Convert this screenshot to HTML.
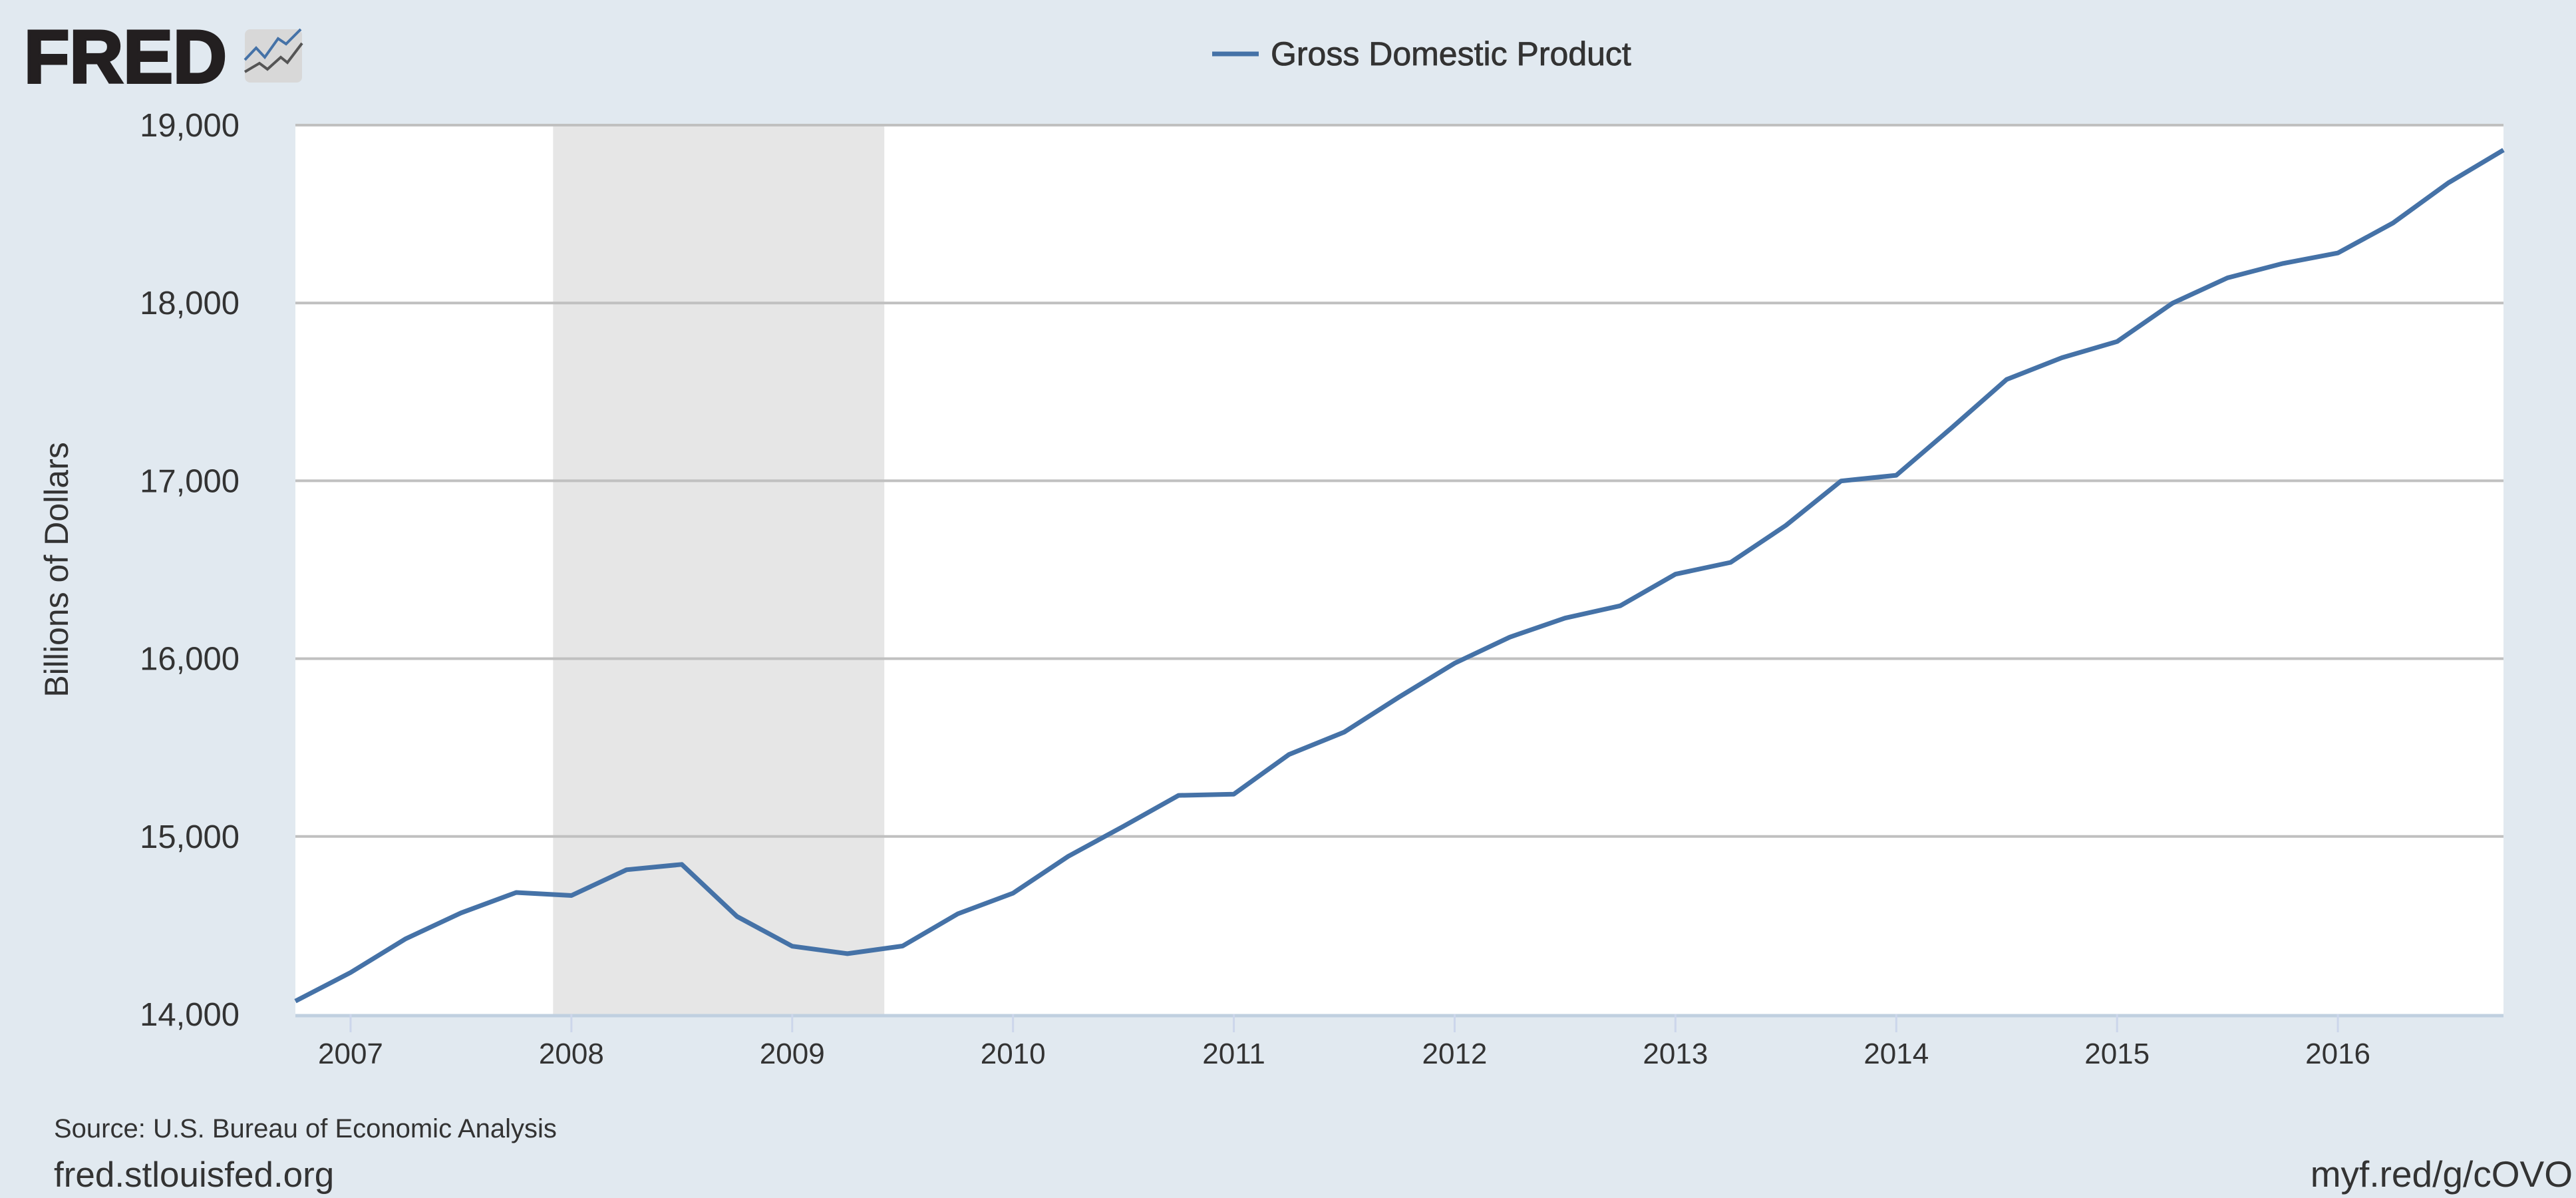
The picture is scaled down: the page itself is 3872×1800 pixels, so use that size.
<!DOCTYPE html>
<html><head><meta charset="utf-8"><style>
html,body{margin:0;padding:0;background:#e1e9f0;}
svg{display:block;font-family:"Liberation Sans",sans-serif;}
</style></head><body>
<svg id="c" width="3872" height="1800" viewBox="0 0 3872 1800">
<rect x="0" y="0" width="3872" height="1800" fill="#e1e9f0"/>
<g>
<text x="36" y="124" font-size="112" font-weight="bold" fill="#231f20" stroke="#231f20" stroke-width="4">FRED</text>
<rect x="368" y="44" width="86" height="80" rx="8" fill="#d8d8d8"/>
<polyline points="368,108 390,95 402,104 422,86 432,94 454,65" fill="none" stroke="#555" stroke-width="4"/>
<polyline points="368,90 385,72 398,86 418,58 430,66 452,44" fill="none" stroke="#4572a7" stroke-width="4"/>
</g>
<g>
<line x1="1822" y1="81" x2="1892" y2="81" stroke="#4572a7" stroke-width="7"/>
<text x="1910" y="98" font-size="50" fill="#333" stroke="#333" stroke-width="0.8">Gross Domestic Product</text>
</g>
<rect x="444" y="188" width="3319" height="1336" fill="#fff"/>
<g id="rec"></g><g id="grid"></g><g id="xt"></g><g id="yt"></g><g id="ser"></g>
<text transform="translate(102,856) rotate(-90)" text-anchor="middle" font-size="50" fill="#333">Billions of Dollars</text>
<text x="81" y="1709" font-size="40" fill="#333">Source: U.S. Bureau of Economic Analysis</text>
<text x="81" y="1783" font-size="53" fill="#333">fred.stlouisfed.org</text>
<text x="3867" y="1783" text-anchor="end" font-size="55" fill="#333">myf.red/g/cOVO</text>
</svg>
<script>
const years = [2007,2008,2009,2010,2011,2012,2013,2014,2015,2016];
const yTicks = [14000,15000,16000,17000,18000,19000];
const yTickLabels = ["14,000","15,000","16,000","17,000","18,000","19,000"];
const recessionStart = 2007.917;
const recessionEnd = 2009.417;
const startYear = 2006.75;
const gdp = [14074,14235,14425,14570,14685,14668,14813,14843,14550,14383,14341,14384,14565,14681,14888,15057,15231,15238,15461,15587,15785,15974,16121,16228,16297,16475,16541,16749,16999,17031,17297,17570,17692,17783,17998,18141,18222,18281,18450,18675,18860];

const L=444,R=3763,T=188,B=1524,x0=2006.75,x1=2016.75,y0=14000,y1=19000;
const X=v=>L+(v-x0)/(x1-x0)*(R-L);
const Y=v=>B-(v-y0)/(y1-y0)*(B-T);
const NS="http://www.w3.org/2000/svg";
function mk(tag,parent,attrs){const e=document.createElementNS(NS,tag);for(const k in attrs)e.setAttribute(k,attrs[k]);document.getElementById(parent).appendChild(e);return e;}

let r=mk('rect','rec',{x:X(recessionStart),y:T,width:X(recessionEnd)-X(recessionStart),height:B-T,fill:'#e6e6e6'});



yTicks.forEach((v,i)=>{
  if(v>y0){let g=mk('line','grid',{x1:L,x2:R,y1:Y(v),y2:Y(v),stroke:'#c0c0c0','stroke-width':4});
  
  }
  let t=mk('text','yt',{x:360,y:Y(v)+17,'text-anchor':'end','font-size':49,fill:'#333'});
  t.textContent=yTickLabels[i];
  
  
});
let ax=mk('line','grid',{x1:L,x2:R,y1:B+2,y2:B+2,stroke:'#c0d0e0','stroke-width':5});


years.forEach(v=>{
  let tk=mk('line','xt',{x1:X(v),x2:X(v),y1:B,y2:B+27,stroke:'#ccd6eb','stroke-width':3});
  
  
  let t=mk('text','xt',{x:X(v),y:1598,'text-anchor':'middle','font-size':44,fill:'#333'});
  t.textContent=v;
  
  
});
const pts=gdp.map((v,i)=>X(startYear+i*0.25).toFixed(1)+','+Y(v).toFixed(1)).join(' ');
let p=mk('polyline','ser',{points:pts,fill:'none',stroke:'#4572a7','stroke-width':7,'stroke-linejoin':'round'});


</script>
</body></html>
